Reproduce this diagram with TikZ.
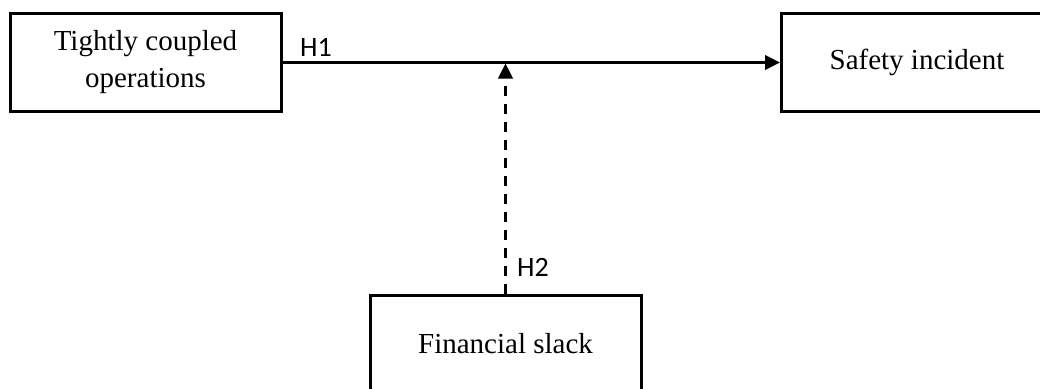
\documentclass[tikz,border=0pt]{standalone}
\usepackage{fontspec}
\setmainfont{Liberation Serif}
\newfontfamily\labelfont{Carlito}
\usetikzlibrary{arrows.meta}
\begin{document}
\begin{tikzpicture}[x=1pt,y=-1pt,
  box/.style={draw, line width=3pt, minimum width=271pt, minimum height=98pt,
    inner sep=0pt, align=center, font=\fontsize{29}{37}\selectfont},
  link/.style={line width=2.6pt, -{Triangle[length=15pt,width=14.5pt]}},
  hyp/.style={font=\labelfont\fontsize{28}{32}\selectfont, inner sep=0pt}]
  \useasboundingbox (0,0) rectangle (1040,388);
  \clip (0,0) rectangle (1040,388);
  % constructs
  \node[box] (tc) at (145.5,62.5) {Tightly coupled\\operations};
  \node[box] (si) at (917,62.5) {Safety incident};
  \node[box] (fs) at (505.5,344) {Financial slack};
  % direct effect
  \draw[link] (tc.east) -- (si.west);
  \coordinate (mod) at (505.5,63.5);
  % moderating effect
  \draw[link, dash pattern=on 10pt off 8pt] (fs.north) -- (mod);
  % hypothesis labels
  \node[hyp] (h1) at (316,47) {H1};
  \node[hyp] (h2) at (533,267) {H2};
\end{tikzpicture}
\end{document}
